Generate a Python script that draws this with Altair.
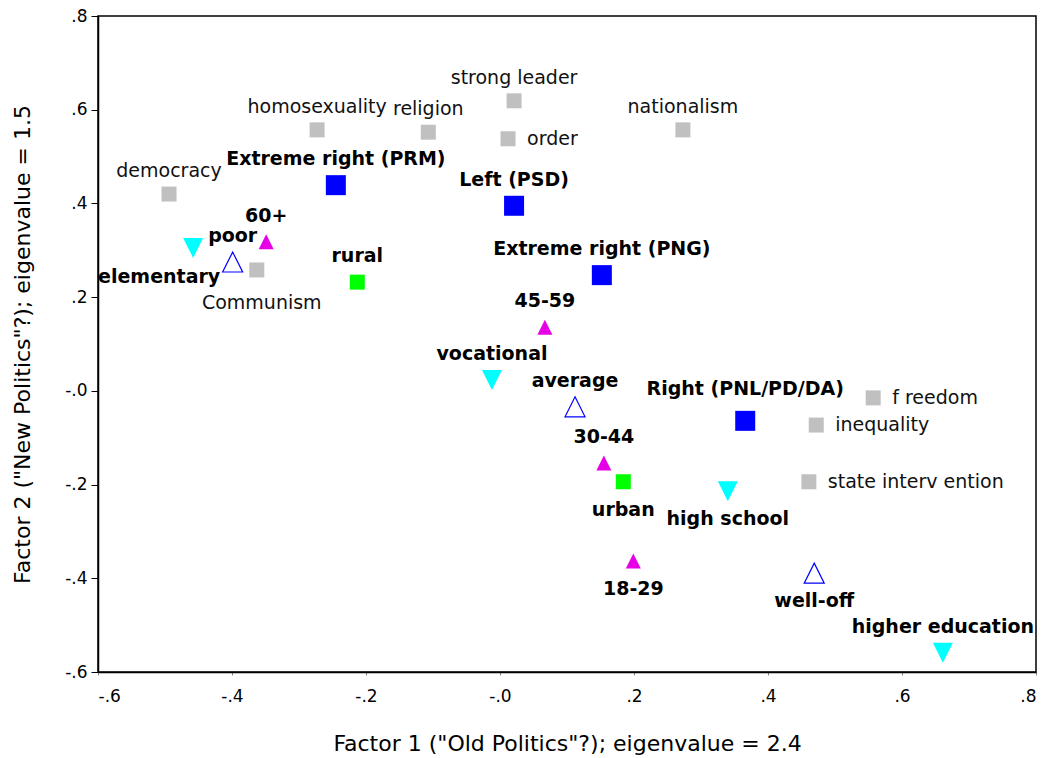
import altair as alt
import pandas as pd

# Items placed on the two-factor map
labels = [
    "democracy", "homosexuality", "religion", "strong leader", "order",
    "nationalism", "Communism", "f reedom", "inequality", "state interv ention",
    "Extreme right (PRM)", "Left (PSD)", "Extreme right (PNG)", "Right (PNL/PD/DA)",
    "rural", "urban",
    "60+", "45-59", "30-44", "18-29",
    "poor", "average", "well-off",
    "elementary", "vocational", "high school", "higher education",
]
factor1 = [
    -0.494, -0.273, -0.107, 0.021, 0.012,
    0.273, -0.363, 0.557, 0.472, 0.461,
    -0.245, 0.021, 0.152, 0.366,
    -0.213, 0.184,
    -0.349, 0.067, 0.155, 0.199,
    -0.399, 0.112, 0.469,
    -0.458, -0.012, 0.340, 0.661,
]
factor2 = [
    0.420, 0.557, 0.552, 0.619, 0.538,
    0.557, 0.258, -0.015, -0.073, -0.194,
    0.439, 0.395, 0.247, -0.064,
    0.232, -0.194,
    0.318, 0.136, -0.154, -0.363,
    0.275, -0.034, -0.389,
    0.305, 0.023, -0.214, -0.559,
]
groups = (
    ["attitude"] * 10 + ["party"] * 4 + ["residence"] * 2
    + ["age"] * 4 + ["income"] * 3 + ["education"] * 4
)
# where each label sits relative to its marker
placement = [
    "above", "above", "above", "above", "right",
    "above", "below_gray", "right", "right", "right",
    "above_bold", "above_bold", "above_bold", "high",
    "above_bold", "below",
    "above_bold", "above_bold", "above_bold", "below",
    "above_bold", "above_bold", "below",
    "below_left", "above_bold", "below", "above_bold",
]
ticks = [-0.6, -0.4, -0.2, 0.0, 0.2, 0.4, 0.6, 0.8]

df = pd.DataFrame({
    "label": labels, "f1": factor1, "f2": factor2,
    "group": groups, "place": placement,
})

FONT = "DejaVu Sans"
UP = "M0,-1L1,1L-1,1Z"
DOWN = "M-1,-1L1,-1L0,1Z"

# ".8", "-.2", "-.0" style tick labels with a plain hyphen
tick_fmt = ("(datum.value < 1e-9 ? '-' : '') + "
            "replace(format(abs(datum.value), '.1f'), '0.', '.')")

x_enc = alt.X(
    "f1:Q",
    scale=alt.Scale(domain=[-0.6, 0.8], nice=False, zero=False),
    axis=alt.Axis(
        values=ticks, labelExpr=tick_fmt, grid=False,
        tickSize=3, tickColor="#888888", domainColor="black", domainWidth=1.5,
        labelFont=FONT, labelFontSize=17, labelColor="black", labelPadding=13,
        title='Factor 1 ("Old Politics"?); eigenvalue = 2.4',
        titleFont=FONT, titleFontSize=22, titleFontWeight="normal",
        titleColor="black", titlePadding=29,
    ),
)
y_enc = alt.Y(
    "f2:Q",
    scale=alt.Scale(domain=[-0.6, 0.8], nice=False, zero=False),
    axis=alt.Axis(
        values=ticks, labelExpr=tick_fmt, grid=False,
        tickSize=7, tickColor="black", domainColor="black", domainWidth=1.5,
        labelFont=FONT, labelFontSize=17, labelColor="black", labelPadding=4,
        title='Factor 2 ("New Politics"?); eigenvalue = 1.5',
        titleFont=FONT, titleFontSize=22, titleFontWeight="normal",
        titleColor="black", titlePadding=30,
    ),
)

base = alt.Chart(df).encode(x=x_enc, y=y_enc)

marker_styles = {
    "attitude": dict(shape="square", size=225, filled=True, color="#c0c0c0"),
    "party": dict(shape="square", size=400, filled=True, color="#0000ff"),
    "residence": dict(shape="square", size=225, filled=True, color="#00ff00"),
    "age": dict(shape=UP, size=225, filled=True, color="#e600e6"),
    "income": dict(shape=UP, size=400, filled=False, color="#0000ff",
                   strokeWidth=1.2),
    "education": dict(shape=DOWN, size=400, filled=True, color="#00ffff"),
}

label_styles = {
    "above": dict(dy=-23, fontWeight="normal", color="#111111"),
    "right": dict(dx=19, dy=0, align="left", fontWeight="normal", color="#111111"),
    "below_gray": dict(dx=5, dy=33, fontWeight="normal", color="#111111"),
    "above_bold": dict(dy=-26, fontWeight="bold", color="black"),
    "high": dict(dy=-32, fontWeight="bold", color="black"),
    "below": dict(dy=28, fontWeight="bold", color="black"),
    "below_left": dict(dx=-34, dy=29, fontWeight="bold", color="black"),
}

layers = []
for g, st in marker_styles.items():
    layers.append(
        base.transform_filter(alt.datum.group == g).mark_point(opacity=1, **st)
    )
for p, st in label_styles.items():
    st = dict(st)
    st.setdefault("align", "center")
    layers.append(
        base.transform_filter(alt.datum.place == p)
        .mark_text(font=FONT, fontSize=19, baseline="middle", **st)
        .encode(text="label:N")
    )

chart = (
    alt.layer(*layers)
    .properties(
        width=938, height=656,
        padding={"left": 98, "top": 16, "right": 12, "bottom": 86},
        autosize=alt.AutoSizeParams(type="none"),
        background="white",
    )
    .configure_view(stroke="black", strokeWidth=1.5)
)

chart.save("out.html", embed_options={"renderer": "svg", "actions": False})
